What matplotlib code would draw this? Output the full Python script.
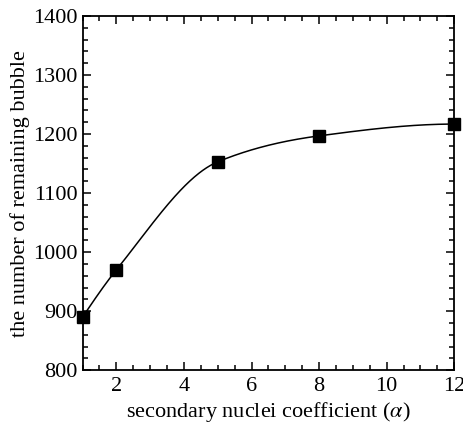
import numpy as np
import matplotlib
matplotlib.use('Agg')
from matplotlib import pyplot as plt
from matplotlib.ticker import MultipleLocator

# Data
alpha = [1, 2, 5, 8, 12]
bubbles = [890, 970, 1153, 1197, 1217]


# Monotone cubic (PCHIP) interpolation for the smooth connecting curve
def pchip(x, y, xs):
    x = np.asarray(x, float)
    y = np.asarray(y, float)
    h = np.diff(x)
    d = np.diff(y) / h
    m = np.zeros_like(y)
    for k in range(1, len(x) - 1):
        if d[k - 1] * d[k] > 0:
            w1 = 2 * h[k] + h[k - 1]
            w2 = h[k] + 2 * h[k - 1]
            m[k] = (w1 + w2) / (w1 / d[k - 1] + w2 / d[k])
    m[0] = ((2 * h[0] + h[1]) * d[0] - h[0] * d[1]) / (h[0] + h[1])
    if np.sign(m[0]) != np.sign(d[0]):
        m[0] = 0
    m[-1] = ((2 * h[-1] + h[-2]) * d[-1] - h[-1] * d[-2]) / (h[-1] + h[-2])
    if np.sign(m[-1]) != np.sign(d[-1]):
        m[-1] = 0
    idx = np.clip(np.searchsorted(x, xs) - 1, 0, len(x) - 2)
    t = (xs - x[idx]) / h[idx]
    h00 = 2 * t**3 - 3 * t**2 + 1
    h10 = t**3 - 2 * t**2 + t
    h01 = -2 * t**3 + 3 * t**2
    h11 = t**3 - t**2
    return h00 * y[idx] + h10 * h[idx] * m[idx] + h01 * y[idx + 1] + h11 * h[idx] * m[idx + 1]


plt.rcParams['font.family'] = ['Liberation Serif', 'DejaVu Serif']
plt.rcParams['mathtext.fontset'] = 'stix'

fig = plt.figure(figsize=(4.64, 4.23), dpi=100)
ax = fig.add_axes([0.178, 0.125, 0.801, 0.837])

xs = np.linspace(alpha[0], alpha[-1], 400)
ax.plot(xs, pchip(alpha, bubbles, xs), color='black', lw=1.1)
ax.plot(alpha, bubbles, 's', color='black', ms=8, clip_on=False)

ax.set_xlim(1, 12)
ax.set_ylim(800, 1400)
ax.set_xticks([2, 4, 6, 8, 10, 12])
ax.xaxis.set_minor_locator(MultipleLocator(0.5))
ax.yaxis.set_major_locator(MultipleLocator(100))
ax.yaxis.set_minor_locator(MultipleLocator(20))

ax.tick_params(which='both', direction='in', top=True, right=True, width=1.1, labelsize=16)
ax.tick_params(which='major', length=6)
ax.tick_params(which='minor', length=3.5)
ax.tick_params(axis='x', pad=5)
for s in ax.spines.values():
    s.set_linewidth(1.3)

ax.set_xlabel(r'secondary nuclei coefficient ($\alpha$)', fontsize=16, labelpad=3)
ax.set_ylabel('the number of remaining bubble', fontsize=16, labelpad=2)

fig.savefig('out.png', dpi=100)
